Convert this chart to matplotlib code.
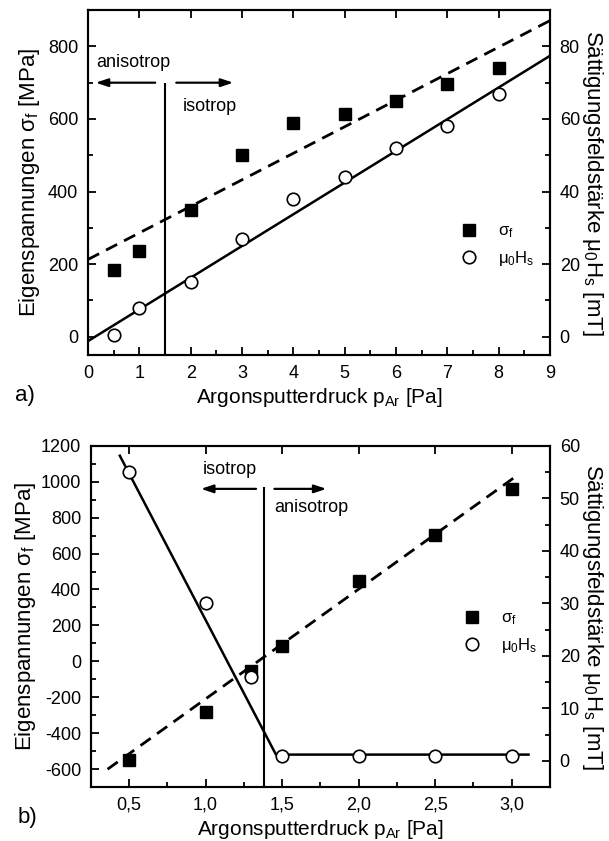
import numpy as np
import matplotlib
matplotlib.use("Agg")
import matplotlib.pyplot as plt
from matplotlib.ticker import MultipleLocator, FixedLocator, FixedFormatter

plt.rcParams['font.family'] = ['Liberation Sans', 'DejaVu Sans']
plt.rcParams['mathtext.fontset'] = 'custom'
plt.rcParams['mathtext.rm'] = 'Liberation Sans'
plt.rcParams['mathtext.it'] = 'Liberation Sans'
plt.rcParams['axes.unicode_minus'] = False

# ======================================================
# DATA  a)
# ======================================================
a_p = [0.5, 1, 2, 3, 4, 5, 6, 7, 8]
a_sigma = [185, 235, 350, 500, 590, 615, 650, 695, 740]          # MPa
a_hs = [0.5, 8, 15, 27, 38, 44, 52, 58, 67]                      # mT
a_fit_sigma_x = [0, 9]
a_fit_sigma_y = [213, 871]
a_fit_hs_x = [0, 9]
a_fit_hs_y = [-1.2, 77.4]
a_border_p = 1.5

# ======================================================
# DATA  b)
# ======================================================
b_p = [0.5, 1.0, 1.3, 1.5, 2.0, 2.5, 3.0]
b_sigma = [-550, -280, -55, 85, 445, 702, 960]                   # MPa
b_hs = [55, 30, 16, 1, 1, 1, 1]                                  # mT
b_fit_sigma_x = [0.36, 3.035]
b_fit_sigma_y = [-600, 1034]
b_fit_hs_x = [0.44, 1.46, 3.11]
b_fit_hs_y = [58.1, 1.2, 1.2]
b_border_p = 1.38
b_xticks = [0.5, 1.0, 1.5, 2.0, 2.5, 3.0]
b_xticklabels = ["0,5", "1,0", "1,5", "2,0", "2,5", "3,0"]

FS = 13
xlab = r"Argonsputterdruck p$_\mathrm{Ar}$ [Pa]"
ylab_l = r"Eigenspannungen σ$_\mathrm{f}$ [MPa]"
ylab_r = r"Sättigungsfeldstärke μ$_\mathrm{0}$H$_\mathrm{s}$ [mT]"
leg_l = [r"σ$_\mathrm{f}$", r"μ$_\mathrm{0}$H$_\mathrm{s}$"]


def style(ax):
    for s in ax.spines.values():
        s.set_linewidth(1.5)
    ax.tick_params(which="both", direction="in", width=1.3, labelsize=FS, pad=7)
    ax.tick_params(which="major", length=6)
    ax.tick_params(which="minor", length=3.5)


fig = plt.figure(figsize=(6.09, 8.41), dpi=100)

# ------------------------------------------------------ a)
ax = fig.add_axes([0.1445, 0.578, 0.7585, 0.410])
ax2 = ax.twinx()
ax.set_xlim(0, 9)
ax.set_ylim(-50, 900)
ax2.set_ylim(-5, 90)
ax.xaxis.set_major_locator(MultipleLocator(1))
ax.xaxis.set_minor_locator(MultipleLocator(0.5))
ax.yaxis.set_major_locator(MultipleLocator(200))
ax.yaxis.set_minor_locator(MultipleLocator(100))
ax2.yaxis.set_major_locator(MultipleLocator(20))
ax2.yaxis.set_minor_locator(MultipleLocator(10))
ax.tick_params(top=True)
style(ax); style(ax2)

ax.plot(a_fit_sigma_x, a_fit_sigma_y, color="black", lw=2, dashes=(4.5, 2.8))
ax2.plot(a_fit_hs_x, a_fit_hs_y, color="black", lw=1.8)
hs_sq, = ax.plot(a_p, a_sigma, "s", color="black", ms=8)
hs_ci, = ax2.plot(a_p, a_hs, "o", mfc="white", mec="black", mew=1.2, ms=9)
ax.vlines(a_border_p, -50, 700, color="black", lw=1.5)
arr = dict(arrowstyle="-|>,head_length=0.6,head_width=0.2", color="black", lw=1.6,
           mutation_scale=12, shrinkA=0, shrinkB=0)
ax.annotate("", xy=(0.15, 700), xytext=(1.31, 700), arrowprops=arr)
ax.annotate("", xy=(2.83, 700), xytext=(1.72, 700), arrowprops=arr)
ax.text(0.17, 755, "anisotrop", fontsize=FS, va="center")
ax.text(1.84, 634, "isotrop", fontsize=FS, va="center")
ax2.legend([hs_sq, hs_ci], leg_l, loc="center left", bbox_to_anchor=(0.775, 0.317),
           frameon=False, fontsize=FS - 1, handlelength=1, handletextpad=1.2, labelspacing=0.5)

ax.set_xlabel(xlab, fontsize=15, labelpad=3)
ax.set_ylabel(ylab_l, fontsize=16, labelpad=4)
ax2.set_ylabel(ylab_r, fontsize=16, rotation=270, labelpad=18)
fig.text(25 / 609, 1 - 395 / 841, "a)", fontsize=16, ha="center", va="center")

# ------------------------------------------------------ b)
bx = fig.add_axes([0.149, 0.064, 0.754, 0.406])
bx2 = bx.twinx()
bx.set_xlim(0.25, 3.25)
bx.set_ylim(-700, 1200)
bx2.set_ylim(-5, 60)
bx.xaxis.set_major_locator(FixedLocator(b_xticks))
bx.xaxis.set_major_formatter(FixedFormatter(b_xticklabels))
bx.xaxis.set_minor_locator(MultipleLocator(0.25))
bx.yaxis.set_major_locator(MultipleLocator(200))
bx.yaxis.set_minor_locator(MultipleLocator(100))
bx2.yaxis.set_major_locator(MultipleLocator(10))
bx2.yaxis.set_minor_locator(MultipleLocator(5))
bx.tick_params(top=True)
style(bx); style(bx2)

bx.plot(b_fit_sigma_x, b_fit_sigma_y, color="black", lw=2, dashes=(4.5, 2.8))
bx2.plot(b_fit_hs_x, b_fit_hs_y, color="black", lw=1.8)
b_sq, = bx.plot(b_p, b_sigma, "s", color="black", ms=8)
b_ci, = bx2.plot(b_p, b_hs, "o", mfc="white", mec="black", mew=1.2, ms=9)
bx.vlines(b_border_p, -700, 970, color="black", lw=1.5)
bx.annotate("", xy=(0.97, 960), xytext=(1.33, 960), arrowprops=arr)
bx.annotate("", xy=(1.79, 960), xytext=(1.45, 960), arrowprops=arr)
bx.text(0.98, 1070, "isotrop", fontsize=FS, va="center")
bx.text(1.45, 855, "anisotrop", fontsize=FS, va="center")
bx2.legend([b_sq, b_ci], leg_l, loc="center left", bbox_to_anchor=(0.78, 0.453),
           frameon=False, fontsize=FS - 1, handlelength=1, handletextpad=1.2, labelspacing=0.5)

bx.set_xlabel(xlab, fontsize=15, labelpad=3)
bx.set_ylabel(ylab_l, fontsize=16, labelpad=2)
bx2.set_ylabel(ylab_r, fontsize=16, rotation=270, labelpad=18)
fig.text(27 / 609, 1 - 818 / 841, "b)", fontsize=16, ha="center", va="center")

fig.savefig("out.png", dpi=100)
